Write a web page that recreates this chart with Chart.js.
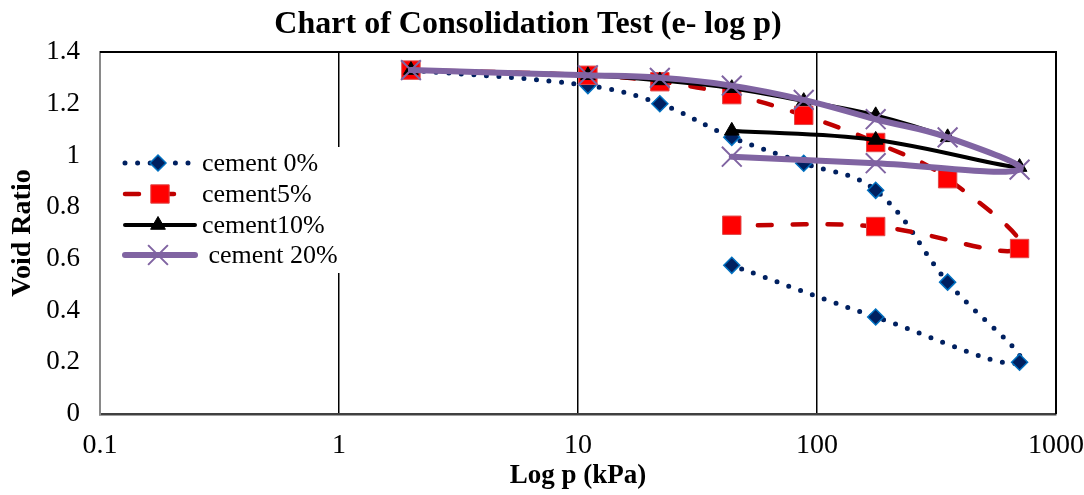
<!DOCTYPE html>
<html>
<head>
    <title>Chart of Consolidation Test (e- log p)</title>
    <style>
        /* Estilos globais */
        * {
            margin: 0;
            padding: 0;
            box-sizing: border-box;
        }

        body {
            background: #fff;
            width: 1084px;
            height: 495px;
            overflow: hidden;
        }

        .container {
            position: relative;
            width: 1084px;
            height: 495px;
        }
    </style>
</head>
<body>
    <div class="container">
        <canvas id="consolidationChart" width="1084" height="495"></canvas>
    </div>
    <script src="https://cdn.jsdelivr.net/npm/chart.js"></script>
    <script>
        // Pressões aplicadas (kPa): carregamento e depois descarregamento
        var pressure = [2, 11, 22, 44, 88, 176, 352, 704, 176, 44];

        // Índice de vazios, por teor de cimento
        var cement0 = [1.33, 1.27, 1.20, 1.07, 0.97, 0.865, 0.51, 0.20, 0.375, 0.575];
        var cement5 = [1.33, 1.31, 1.285, 1.235, 1.155, 1.05, 0.91, 0.64, 0.725, 0.73];
        var cement10 = [1.33, 1.31, 1.29, 1.26, 1.21, 1.155, 1.07, 0.955, 1.06, 1.095];
        var cement20 = [1.33, 1.31, 1.30, 1.27, 1.215, 1.14, 1.07, 0.945, 0.97, 0.995];

        var seriesNames = ['cement 0%', 'cement5%', 'cement10%', ' cement 20%'];

        var xTickValues = [0.1, 1, 10, 100, 1000];
        var xTickLabels = ['0.1', '1', '10', '100', '1000'];
        var yTickValues = [0, 0.2, 0.4, 0.6, 0.8, 1, 1.2, 1.4];

        function toPoints(values) {
            return values.map(function (v, i) {
                return { x: pressure[i], y: v };
            });
        }

        var serif = '"Liberation Serif", "Times New Roman", serif';
        Chart.defaults.font.family = serif;
        Chart.defaults.color = '#000';

        // Moldura superior e direita da área do gráfico
        var frame = {
            id: 'frame',
            beforeDatasetsDraw: function (chart) {
                var a = chart.chartArea;
                var ctx = chart.ctx;
                ctx.save();
                ctx.strokeStyle = '#000';
                ctx.lineWidth = 2;
                ctx.beginPath();
                ctx.moveTo(a.left, a.top);
                ctx.lineTo(a.right, a.top);
                ctx.lineTo(a.right, a.bottom);
                ctx.stroke();
                ctx.restore();
            }
        };

        // Legenda no estilo do Excel, dentro da área do gráfico
        var excelLegend = {
            id: 'excelLegend',
            afterDatasetsDraw: function (chart) {
                var ctx = chart.ctx;
                ctx.save();
                ctx.fillStyle = '#fff';
                ctx.fillRect(110, 147, 236, 126);
                var rows = [163, 194, 225, 255];
                chart.data.datasets.forEach(function (ds, i) {
                    var y = rows[i];
                    var x0 = 125, x1 = i === 1 ? 180 : 195;
                    var mx = i === 1 ? 160 : 158;
                    ctx.save();
                    ctx.strokeStyle = ds.borderColor;
                    ctx.lineWidth = ds.borderWidth;
                    ctx.lineCap = ds.borderCapStyle || 'butt';
                    ctx.setLineDash(ds.borderDash || []);
                    ctx.beginPath();
                    ctx.moveTo(x0, y);
                    ctx.lineTo(x1, y);
                    ctx.stroke();
                    ctx.restore();

                    ctx.save();
                    ctx.setLineDash([]);
                    ctx.fillStyle = ds.pointBackgroundColor;
                    ctx.strokeStyle = ds.pointBorderColor;
                    ctx.lineWidth = ds.pointBorderWidth;
                    Chart.helpers.drawPoint(ctx, {
                        pointStyle: ds.pointStyle,
                        rotation: 0,
                        radius: ds.pointRadius,
                        borderWidth: ds.pointBorderWidth
                    }, mx, y);
                    ctx.restore();

                    ctx.fillStyle = '#000';
                    ctx.font = '26px ' + serif;
                    ctx.textBaseline = 'middle';
                    ctx.textAlign = 'left';
                    ctx.fillText(ds.label, 202, y + 1);
                });
                ctx.restore();
            }
        };

        var ctx = document.getElementById('consolidationChart').getContext('2d');
        var chart = new Chart(ctx, {
            type: 'line',
            data: {
                datasets: [{
                    label: seriesNames[0],
                    data: toPoints(cement0),
                    borderColor: '#002060',
                    borderWidth: 5,
                    borderDash: [0, 12.6],
                    borderCapStyle: 'round',
                    pointStyle: 'rectRot',
                    pointRadius: 8,
                    pointBackgroundColor: '#002060',
                    pointBorderColor: '#0070C0',
                    pointBorderWidth: 1.5,
                    tension: 0.4,
                    order: 4
                }, {
                    label: seriesNames[1],
                    data: toPoints(cement5),
                    borderColor: '#C00000',
                    borderWidth: 4.5,
                    borderDash: [14, 21],
                    borderCapStyle: 'round',
                    pointStyle: 'rect',
                    pointRadius: 13,
                    pointBackgroundColor: '#FF0000',
                    pointBorderColor: '#E04848',
                    pointBorderWidth: 1,
                    tension: 0.4,
                    order: 3
                }, {
                    label: seriesNames[2],
                    data: toPoints(cement10),
                    borderColor: '#000000',
                    borderWidth: 4,
                    borderCapStyle: 'round',
                    pointStyle: 'triangle',
                    pointRadius: 8.5,
                    pointBackgroundColor: '#000000',
                    pointBorderColor: '#000000',
                    pointBorderWidth: 1,
                    tension: 0.4,
                    order: 2
                }, {
                    label: seriesNames[3],
                    data: toPoints(cement20),
                    borderColor: '#8064A2',
                    borderWidth: 6,
                    borderCapStyle: 'round',
                    pointStyle: 'crossRot',
                    pointRadius: 14,
                    pointBackgroundColor: '#8064A2',
                    pointBorderColor: '#8064A2',
                    pointBorderWidth: 2,
                    tension: 0.4,
                    order: 1
                }]
            },
            options: {
                responsive: false,
                animation: false,
                layout: {
                    padding: { left: 0, right: 28, top: 0, bottom: 0 }
                },
                plugins: {
                    legend: { display: false },
                    tooltip: { enabled: false },
                    title: {
                        display: true,
                        text: 'Chart of Consolidation Test (e- log p)',
                        color: '#000',
                        font: { size: 32, weight: 'bold', family: serif },
                        padding: { top: 6, bottom: 7.6 }
                    }
                },
                scales: {
                    x: {
                        type: 'logarithmic',
                        min: 0.1,
                        max: 1000,
                        afterBuildTicks: function (scale) {
                            scale.ticks = xTickValues.map(function (v) { return { value: v }; });
                        },
                        afterFit: function (scale) {
                            scale.height = 81;
                            scale.paddingLeft = 0;
                            scale.paddingRight = 0;
                        },
                        ticks: {
                            autoSkip: false,
                            maxRotation: 0,
                            padding: 15,
                            font: { size: 28 },
                            callback: function (value) {
                                var i = xTickValues.indexOf(value);
                                return i >= 0 ? xTickLabels[i] : '';
                            }
                        },
                        grid: {
                            drawTicks: false,
                            lineWidth: 1.5,
                            color: function (c) {
                                return c.tick && c.tick.value === 0.1 ? '#898989' : '#000';
                            }
                        },
                        border: { display: true, color: '#404040', width: 2.5 },
                        title: {
                            display: true,
                            text: 'Log p (kPa)',
                            color: '#000',
                            font: { size: 27, weight: 'bold', family: serif },
                            padding: { top: 0, bottom: 3 }
                        }
                    },
                    y: {
                        type: 'linear',
                        min: 0,
                        max: 1.4,
                        afterBuildTicks: function (scale) {
                            scale.ticks = yTickValues.map(function (v) { return { value: v }; });
                        },
                        afterFit: function (scale) { scale.width = 100; },
                        ticks: {
                            padding: 20,
                            font: { size: 27 },
                            callback: function (value) {
                                return String(+value.toFixed(1));
                            }
                        },
                        grid: { display: false, drawTicks: false },
                        border: { display: true, color: '#898989', width: 2 },
                        title: {
                            display: true,
                            text: 'Void Ratio',
                            color: '#000',
                            font: { size: 28, weight: 'bold', family: serif },
                            padding: { top: 6, bottom: 0 }
                        }
                    }
                }
            },
            plugins: [frame, excelLegend]
        });
    </script>
</body>
</html>
